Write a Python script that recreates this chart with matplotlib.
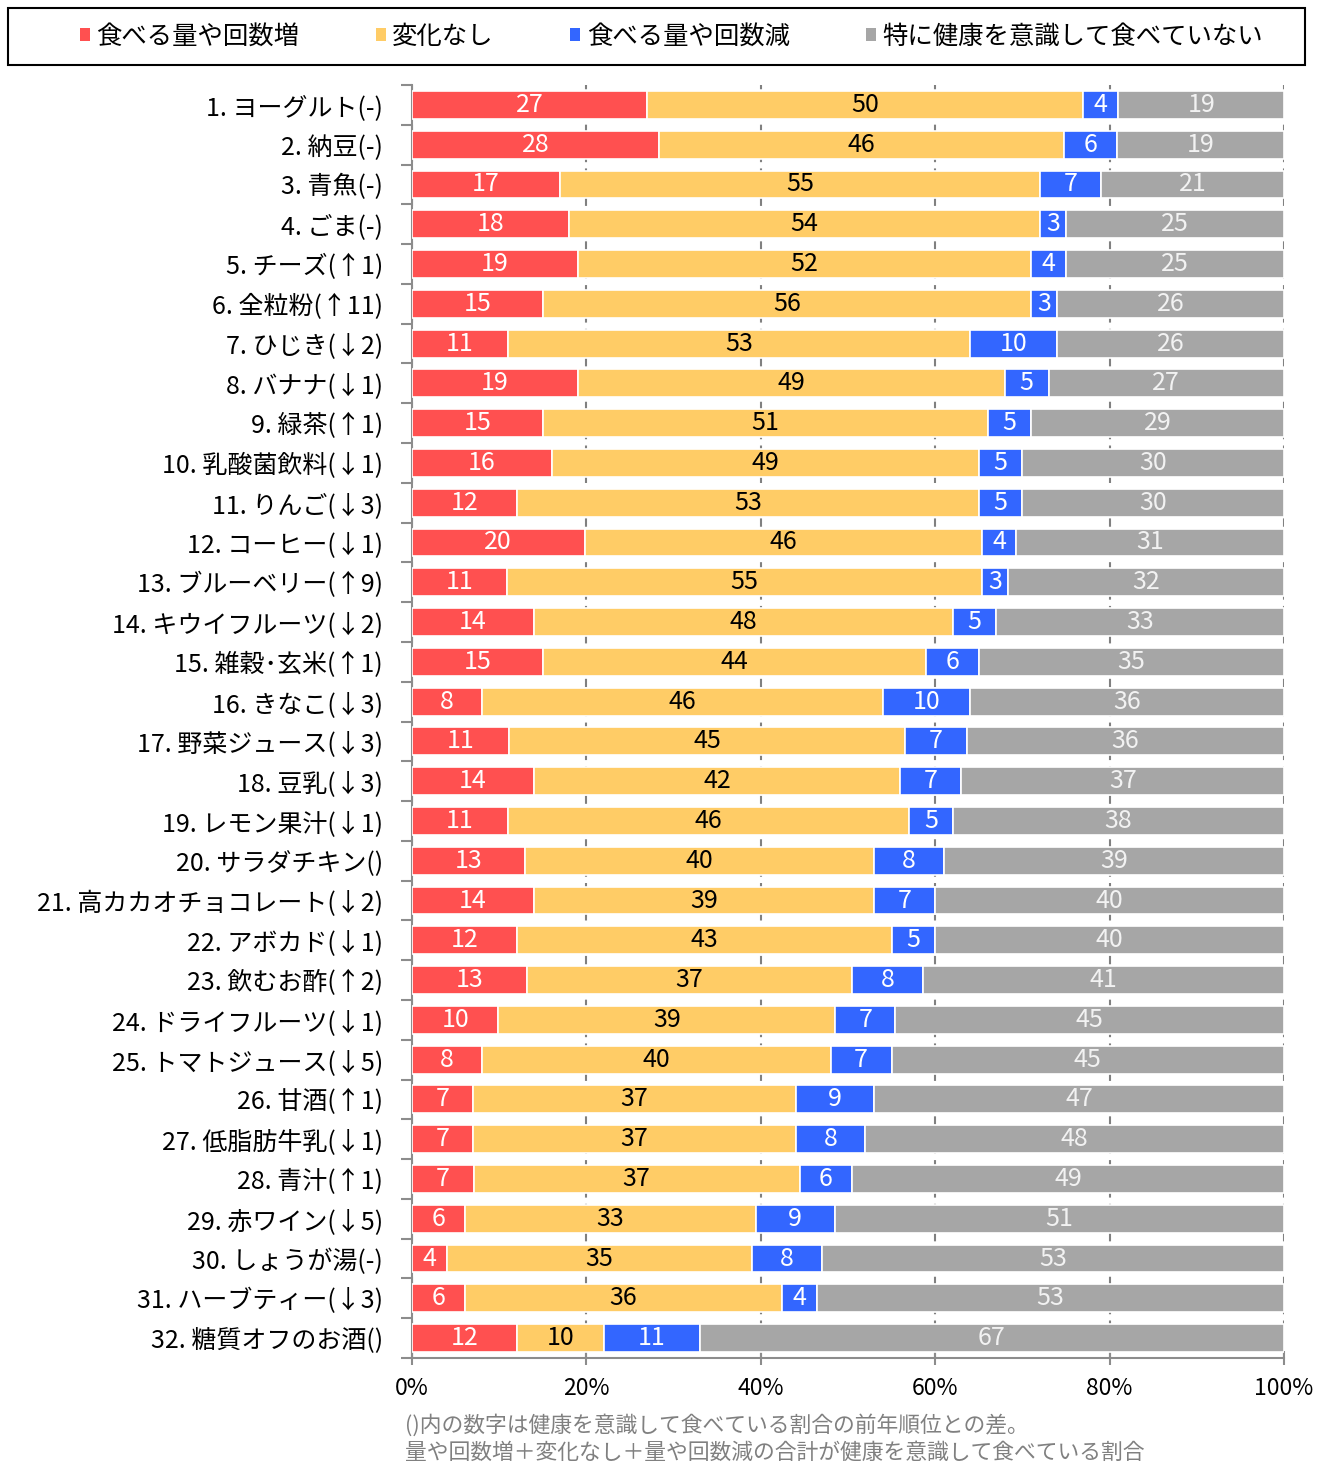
import matplotlib
matplotlib.use("Agg")
import matplotlib.pyplot as plt
from matplotlib.patches import Patch, Rectangle
import numpy as np

plt.rcParams['font.family'] = ['Noto Sans CJK JP', 'DejaVu Sans']

categories = [
    "1. ヨーグルト(-)", "2. 納豆(-)", "3. 青魚(-)", "4. ごま(-)", "5. チーズ(↑1)",
    "6. 全粒粉(↑11)", "7. ひじき(↓2)", "8. バナナ(↓1)", "9. 緑茶(↑1)", "10. 乳酸菌飲料(↓1)",
    "11. りんご(↓3)", "12. コーヒー(↓1)", "13. ブルーベリー(↑9)", "14. キウイフルーツ(↓2)",
    "15. 雑穀･玄米(↑1)", "16. きなこ(↓3)", "17. 野菜ジュース(↓3)", "18. 豆乳(↓3)",
    "19. レモン果汁(↓1)", "20. サラダチキン()", "21. 高カカオチョコレート(↓2)", "22. アボカド(↓1)",
    "23. 飲むお酢(↑2)", "24. ドライフルーツ(↓1)", "25. トマトジュース(↓5)", "26. 甘酒(↑1)",
    "27. 低脂肪牛乳(↓1)", "28. 青汁(↑1)", "29. 赤ワイン(↓5)", "30. しょうが湯(-)",
    "31. ハーブティー(↓3)", "32. 糖質オフのお酒()",
]
increase = [27, 28, 17, 18, 19, 15, 11, 19, 15, 16, 12, 20, 11, 14, 15, 8, 11, 14, 11, 13, 14, 12, 13, 10, 8, 7, 7, 7, 6, 4, 6, 12]
no_change = [50, 46, 55, 54, 52, 56, 53, 49, 51, 49, 53, 46, 55, 48, 44, 46, 45, 42, 46, 40, 39, 43, 37, 39, 40, 37, 37, 37, 33, 35, 36, 10]
decrease = [4, 6, 7, 3, 4, 3, 10, 5, 5, 5, 5, 4, 3, 5, 6, 10, 7, 7, 5, 8, 7, 5, 8, 7, 7, 9, 8, 6, 9, 8, 4, 11]
not_conscious = [19, 19, 21, 25, 25, 26, 26, 27, 29, 30, 30, 31, 32, 33, 35, 36, 36, 37, 38, 39, 40, 40, 41, 45, 45, 47, 48, 49, 51, 53, 53, 67]
series_names = ["食べる量や回数増", "変化なし", "食べる量や回数減", "特に健康を意識して食べていない"]
colors = ["#FF5050", "#FFCC66", "#3366FF", "#A6A6A6"]
text_colors = ["white", "black", "white", "#F2F2F2"]
xticks = [0, 20, 40, 60, 80, 100]
xtick_labels = ["0%", "20%", "40%", "60%", "80%", "100%"]
footnotes = ["()内の数字は健康を意識して食べている割合の前年順位との差。",
             "量や回数増＋変化なし＋量や回数減の合計が健康を意識して食べている割合"]

W, H = 1330, 1463
fig = plt.figure(figsize=(W / 100, H / 100), dpi=100)
ax = fig.add_axes([412 / W, (H - 1358) / H, 872 / W, (1358 - 85) / H])

data = np.array([increase, no_change, decrease, not_conscious], dtype=float)
totals = data.sum(axis=0)
pct = data / totals * 100
y = np.arange(len(categories))
left = np.zeros(len(categories))
for k in range(4):
    ax.barh(y, pct[k], left=left, height=0.7, color=colors[k], edgecolor='white',
            linewidth=1.2, zorder=3)
    for i in range(len(categories)):
        ax.text(left[i] + pct[k][i] / 2, y[i], f"{int(data[k][i])}", ha='center', va='center',
                color=text_colors[k], fontsize=18, zorder=4)
    left += pct[k]

ax.set_xlim(0, 100)
ax.set_ylim(len(categories) - 0.5, -0.5)
ax.set_yticks(y)
ax.set_yticklabels(categories, fontsize=18)
ax.set_yticks(np.arange(-0.5, len(categories), 1), minor=True)
ax.tick_params(axis='y', which='major', length=0, pad=21)
ax.tick_params(axis='y', which='minor', length=8, width=1.5, color='#8C8C8C')
ax.set_xticks(xticks)
ax.set_xticklabels(xtick_labels, fontsize=16.5)
ax.tick_params(axis='x', which='major', direction='inout', length=10, width=1.5, color='#8C8C8C', pad=9)
ax.xaxis.grid(True, linestyle=(0, (4, 3)), color='#808080', linewidth=1.5, zorder=0)
ax.set_axisbelow(True)
for s in ['top', 'right']:
    ax.spines[s].set_visible(False)
for s in ['left', 'bottom']:
    ax.spines[s].set_color('#8C8C8C')
    ax.spines[s].set_linewidth(1.5)

# legend
fig.patches.append(Rectangle((8 / W, 1 - 65 / H), 1297 / W, 57 / H, transform=fig.transFigure,
                             fill=False, edgecolor='black', linewidth=1.5))
handles = [Patch(facecolor=c, edgecolor='none', label=n) for c, n in zip(colors, series_names)]
fig.legend(handles=handles, loc='center left', bbox_to_anchor=(80 / W, 1 - 37 / H), ncol=4,
           frameon=False, fontsize=18.3, handlelength=0.4, handleheight=0.4,
           handletextpad=0.25, columnspacing=3.0, borderpad=0, borderaxespad=0)

fig.text(405 / W, 1 - 1425 / H, footnotes[0], fontsize=15.7, color='#808080', va='center')
fig.text(405 / W, 1 - 1453 / H, footnotes[1], fontsize=15.7, color='#808080', va='center')

fig.savefig("out.png", dpi=100)
